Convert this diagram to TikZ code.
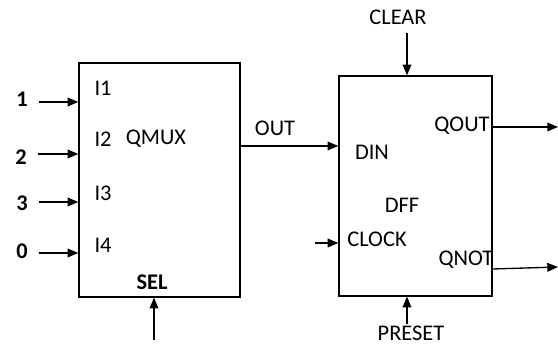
\documentclass[tikz,border=0pt]{standalone}
\usepackage{fontspec}
\setmainfont{Carlito}
\usetikzlibrary{positioning, arrows.meta}

\begin{document}
\begin{tikzpicture}[
    x=0.75pt, y=-0.75pt,
    block/.style={draw, line width=1pt, rectangle, inner sep=0pt},
    lbl/.style={inner sep=1pt, font=\fontsize{16.8}{19}\selectfont},
    pin/.style={inner sep=1pt, font=\fontsize{16.8}{19}\selectfont\bfseries},
    arrow/.style={-{Triangle[length=8pt, width=6.5pt]}, line width=1pt}
]
    \useasboundingbox (0,0) rectangle (558,345);

    % the two blocks
    \node[block, minimum width=161*0.75pt, minimum height=234*0.75pt] (mux) at (159.5,180) {};
    \node[block, minimum width=153*0.75pt, minimum height=220*0.75pt] (dff) at (415.5,186) {};

    % mux labels
    \node[lbl] (i1) at (103,88) {I1};
    \node[lbl] (i2) at (103,139) {I2};
    \node[lbl] (i3) at (103,193) {I3};
    \node[lbl] (i4) at (103,245) {I4};
    \node[lbl] (qmux) at (156,139) {QMUX};
    \node[pin] (sel) at (152,282) {SEL};

    \node[pin] (in1) at (22,99) {1};
    \node[pin] (in2) at (21,157) {2};
    \node[pin] (in3) at (22,203) {3};
    \node[pin] (in0) at (22,251) {0};
    \coordinate (selin) at (154,340);

    % dff labels
    \node[lbl] (out) at (275,128) {OUT};
    \node[lbl] (clear) at (398,17) {CLEAR};
    \node[lbl] (din) at (372,152) {DIN};
    \node[lbl] (dfflbl) at (402,205) {DFF};
    \node[lbl] (clock) at (377,239) {CLOCK};
    \node[lbl] (qout) at (462,126) {QOUT};
    \node[lbl] (qnot) at (466,260) {QNOT};
    \node[lbl] (preset) at (411,333) {PRESET};
    \coordinate (clrtop) at (407,33);
    \coordinate (clkin) at (315,243);
    \coordinate (qo) at (558,127);
    \coordinate (qn) at (558,267);

    \draw[arrow] ([xshift=7pt]in1.east |- 0,102) -- (mux.west |- 0,102);
    \draw[arrow] ([xshift=7pt]in2.east |- 0,154) -- (mux.west |- 0,154);
    \draw[arrow] ([xshift=7pt]in3.east |- 0,202) -- (mux.west |- 0,202);
    \draw[arrow] ([xshift=7pt]in0.east |- 0,253) -- (mux.west |- 0,253);
    \draw[arrow] (selin) -- (mux.south -| selin);

    \draw[arrow] (mux.east |- 0,146) -- (dff.west |- 0,146);
    \draw[arrow] (clrtop) -- (dff.north -| clrtop);
    \draw[arrow] (clkin) -- (dff.west |- clkin);
    \draw[arrow] (dff.east |- qo) -- (qo);
    \draw[arrow] (dff.east |- 0,269) -- (qn);
    \draw[arrow] (preset.north -| 407,0) -- (dff.south -| 407,0);

\end{tikzpicture}
\end{document}
